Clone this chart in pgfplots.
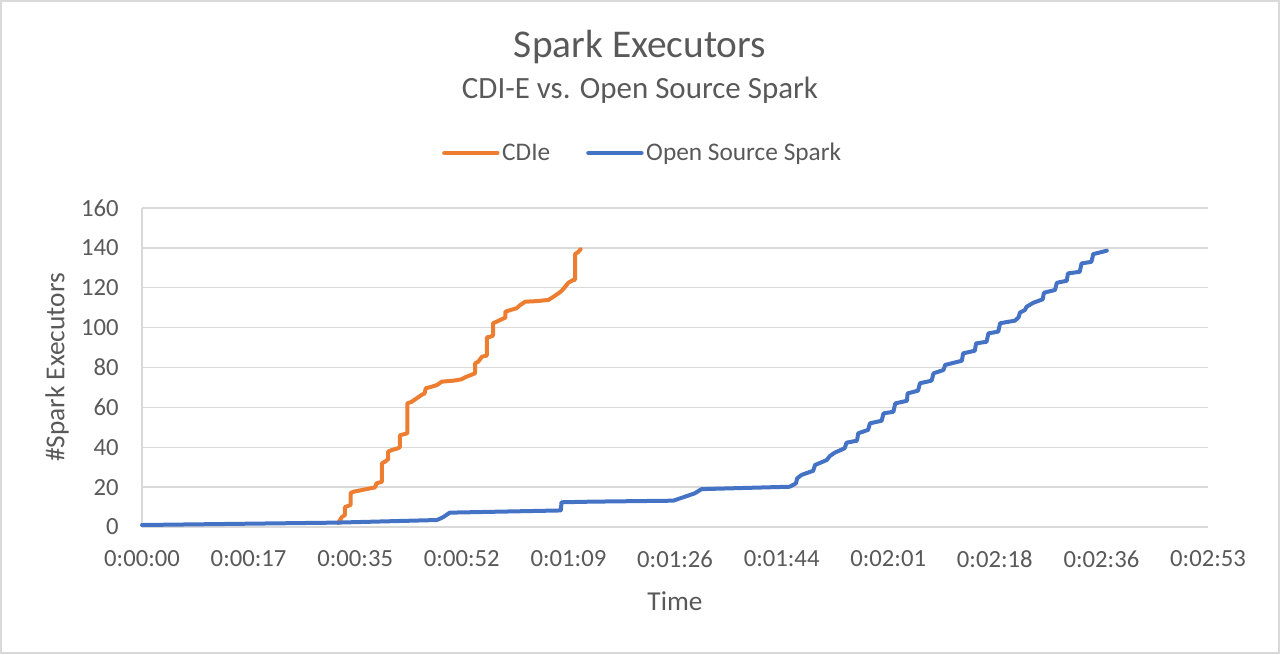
\documentclass[border=0pt]{standalone}
\usepackage{pgfplots}
\pgfplotsset{compat=1.18}
\usepackage{fontspec}
\setmainfont{Carlito}
\definecolor{txt}{HTML}{595959}
\definecolor{gridc}{HTML}{D9D9D9}
\definecolor{xorange}{HTML}{ED7D31}
\definecolor{xblue}{HTML}{4472C4}
\begin{document}
\begin{tikzpicture}
\path[use as bounding box] (0,0) rectangle (960pt,490.5pt);
\draw[gridc, line width=1.5pt] (0.75pt,0.75pt) rectangle (959.25pt,489.75pt);
\node[txt, font=\fontsize{29.5pt}{34pt}\selectfont] at (480pt,455.25pt) {Spark Executors};
\node[txt, font=\fontsize{23.2pt}{27pt}\selectfont] at (480pt,423pt) {CDI-E vs. Open Source Spark};
\begin{axis}[
  at={(106.5pt,95.25pt)}, anchor=south west,
  width=799.5pt, height=239.25pt, scale only axis,
  xmin=0, xmax=172.8, ymin=0, ymax=160,
  xtick={0,17.28,34.56,51.84,69.12,86.4,103.68,120.96,138.24,155.52,172.8},
  xticklabels={0:00:00,0:00:17,0:00:35,0:00:52,0:01:09,0:01:26,0:01:44,0:02:01,0:02:18,0:02:36,0:02:53},
  ytick={0,20,...,160},
  /pgf/number format/assume math mode=true,
  ymajorgrids, grid style={gridc, line width=1.1pt},
  axis lines*=left,
  axis line style={gridc, line width=1.1pt, -},
  tick style={draw=none},
  tick label style={txt, font=\fontsize{18.5pt}{22pt}\selectfont},
  yticklabel style={xshift=-14pt},
  xticklabel style={yshift=-14pt},
  xlabel={Time}, ylabel={\#Spark Executors},
  label style={txt, font=\fontsize{20.5pt}{24pt}\selectfont},
  xlabel style={at={(axis description cs:0.5,-0.232)}, anchor=center},
  ylabel style={at={(axis description cs:-0.0797,0.5)}, anchor=center},
  legend columns=2,
  legend style={draw=none, fill=none, at={(axis description cs:0.47,1.172)}, anchor=center,
    text=txt, font=\fontsize{19pt}{22pt}\selectfont,
    /tikz/every even column/.append style={column sep=25pt},
    inner sep=0pt},
  legend image code/.code={\draw[#1, line cap=round] (0pt,0pt) -- (40pt,0pt);},
  every axis plot/.append style={line width=3pt, line join=round, line cap=round},
  clip=false,
]
\addplot[xorange] coordinates {
(31.8,2) (32.4,5) (32.9,6) (32.9,10) (33.8,11) (33.8,17) (34.3,17.7) (37.8,19.9) (38.0,21.9) (38.9,22.7)
(38.9,32) (39.4,32.8) (39.9,34) (39.9,37.8) (40.5,38.6) (41.5,39.5) (41.8,40) (41.8,46) (43.0,47) (43.0,62)
(43.7,62.8) (44.5,64.5) (45.3,66.2) (45.8,67) (46.0,69.6) (47.0,70.4) (47.8,71.2) (48.6,72.9) (50.5,73.4)
(51.8,74.1) (52.4,75.1) (54.0,77.1) (54.0,82.1) (54.5,82.9) (55.1,85.4) (55.9,86) (55.9,95.1) (56.4,95.4)
(56.9,96) (56.9,102.2) (57.5,103) (58.3,104.2) (58.9,105) (58.9,108) (59.7,108.8) (60.7,109.7) (61.3,111.3)
(62.1,113) (64.0,113.3) (65.9,113.9) (66.7,115.5) (67.5,117.2) (68.0,118.4) (68.6,120.5) (69.1,122.5)
(69.9,123.9) (70.2,124) (70.2,136.9) (70.7,137.9) (71.1,139.3)
};
\addlegendentry{CDIe}
\addplot[xblue] coordinates {
(0,1) (31.6,2.2) (47.8,3.5) (48.8,4.9) (49.9,7.2) (67.8,8.3) (67.9,8.5) (68.0,12.4) (72.6,12.7) (86.1,13.2)
(88.3,15.5) (89.6,16.9) (90.7,19) (105.0,20.2) (106.0,21.9) (106.2,24.4) (106.9,26.1) (108.8,28.2) (109.1,31.1)
(111.0,33.6) (111.5,35.6) (112.3,37.3) (113.9,39.5) (114.2,42.3) (115.9,43.3) (116.1,47) (117.7,48.7) (118.0,52)
(119.9,53.3) (120.2,57) (121.8,57.8) (122.1,62) (124.0,63.3) (124.1,67) (125.8,68.4) (126.1,72.1) (128.0,73.4)
(128.3,77.1) (129.9,78.7) (130.2,81.3) (132.9,83.4) (133.1,87.1) (135.0,88.4) (135.2,92.1) (136.9,92.9)
(137.2,97.1) (138.8,98) (139.1,102.2) (141.5,103.5) (142.1,105.2) (142.3,107.5) (143.1,108.8) (143.4,110.5)
(144.5,112.5) (146.0,114.2) (146.2,117.5) (148.0,118.9) (148.3,122.5) (149.9,123.5) (150.1,127.2) (152.0,128)
(152.3,132.2) (153.9,133) (154.2,136.9) (156.4,138.6)
};
\addlegendentry{Open Source Spark}
\end{axis}
\end{tikzpicture}
\end{document}
